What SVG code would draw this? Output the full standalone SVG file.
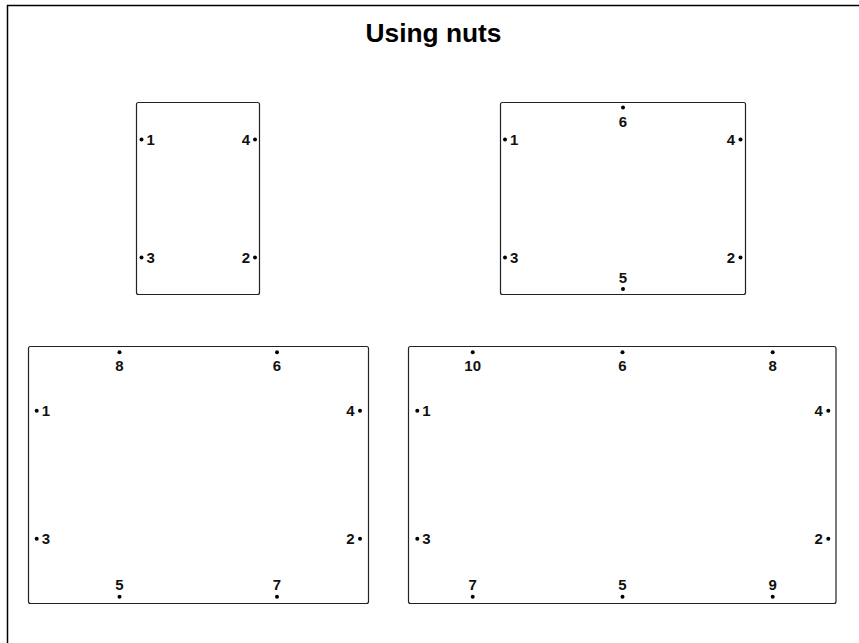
<svg xmlns="http://www.w3.org/2000/svg" width="859" height="643" viewBox="0 0 859 643">
<style>
.frame{fill:none;stroke:#000;stroke-width:1.5}
.box{fill:#fff;stroke:#222;stroke-width:1.2}
.dot{fill:#000}
.lbl{font-family:"Liberation Sans",Arial,sans-serif;font-weight:bold;font-size:15px;fill:#111}
.s{text-anchor:start}.e{text-anchor:end}.m{text-anchor:middle}
.title{font-family:"Liberation Sans",Arial,sans-serif;font-weight:bold;font-size:25px;fill:#000;text-anchor:middle}
</style>
<rect width="859" height="643" fill="#fff"/>
<path class="frame" d="M7.5,643 V5.5 H859"/>
<text class="title" x="433.5" y="42" textLength="136" lengthAdjust="spacingAndGlyphs">Using nuts</text>

<g id="panel1">
<rect class="box" x="136.5" y="102.5" width="123" height="192" rx="2"/>
<circle class="dot" cx="141.5" cy="139.5" r="2"/><text class="lbl s" x="146.5" y="145">1</text>
<circle class="dot" cx="255" cy="139.5" r="2"/><text class="lbl e" x="250" y="145">4</text>
<circle class="dot" cx="141.5" cy="257.5" r="2"/><text class="lbl s" x="146.5" y="263">3</text>
<circle class="dot" cx="255" cy="257.5" r="2"/><text class="lbl e" x="250" y="263">2</text>
</g>

<g id="panel2">
<rect class="box" x="500.5" y="102.5" width="245" height="192" rx="2"/>
<circle class="dot" cx="505" cy="139.5" r="2"/><text class="lbl s" x="510" y="145">1</text>
<circle class="dot" cx="740.5" cy="139.5" r="2"/><text class="lbl e" x="735" y="145">4</text>
<circle class="dot" cx="505" cy="257.5" r="2"/><text class="lbl s" x="510" y="263">3</text>
<circle class="dot" cx="740.5" cy="257.5" r="2"/><text class="lbl e" x="735" y="263">2</text>
<circle class="dot" cx="623" cy="107.5" r="2"/><text class="lbl m" x="623" y="127">6</text>
<circle class="dot" cx="623" cy="289" r="2"/><text class="lbl m" x="623" y="283">5</text>
</g>

<g id="panel3">
<rect class="box" x="28.5" y="346.5" width="340" height="257" rx="2"/>
<circle class="dot" cx="36.7" cy="410.7" r="2"/><text class="lbl s" x="41.7" y="416">1</text>
<circle class="dot" cx="360" cy="410.7" r="2"/><text class="lbl e" x="354.5" y="416">4</text>
<circle class="dot" cx="36.7" cy="538.7" r="2"/><text class="lbl s" x="41.7" y="544">3</text>
<circle class="dot" cx="360" cy="538.7" r="2"/><text class="lbl e" x="354.5" y="544">2</text>
<circle class="dot" cx="119.5" cy="352.3" r="2"/><text class="lbl m" x="119.5" y="371">8</text>
<circle class="dot" cx="277" cy="352.3" r="2"/><text class="lbl m" x="277" y="371">6</text>
<circle class="dot" cx="119.5" cy="596.7" r="2"/><text class="lbl m" x="119.5" y="590">5</text>
<circle class="dot" cx="277" cy="596.7" r="2"/><text class="lbl m" x="277" y="590">7</text>
</g>

<g id="panel4">
<rect class="box" x="408.5" y="346.5" width="427.5" height="257" rx="2"/>
<circle class="dot" cx="417.3" cy="410.7" r="2"/><text class="lbl s" x="422.3" y="416">1</text>
<circle class="dot" cx="828.3" cy="410.7" r="2"/><text class="lbl e" x="822.8" y="416">4</text>
<circle class="dot" cx="417.3" cy="538.7" r="2"/><text class="lbl s" x="422.3" y="544">3</text>
<circle class="dot" cx="828.3" cy="538.7" r="2"/><text class="lbl e" x="822.8" y="544">2</text>
<circle class="dot" cx="472.7" cy="352.3" r="2"/><text class="lbl m" x="472.7" y="371">10</text>
<circle class="dot" cx="622.5" cy="352.3" r="2"/><text class="lbl m" x="622.5" y="371">6</text>
<circle class="dot" cx="772.7" cy="352.3" r="2"/><text class="lbl m" x="772.7" y="371">8</text>
<circle class="dot" cx="472.7" cy="596.7" r="2"/><text class="lbl m" x="472.7" y="590">7</text>
<circle class="dot" cx="622.5" cy="596.7" r="2"/><text class="lbl m" x="622.5" y="590">5</text>
<circle class="dot" cx="772.7" cy="596.7" r="2"/><text class="lbl m" x="772.7" y="590">9</text>
</g>

<g id="connectors"></g>
</svg>
